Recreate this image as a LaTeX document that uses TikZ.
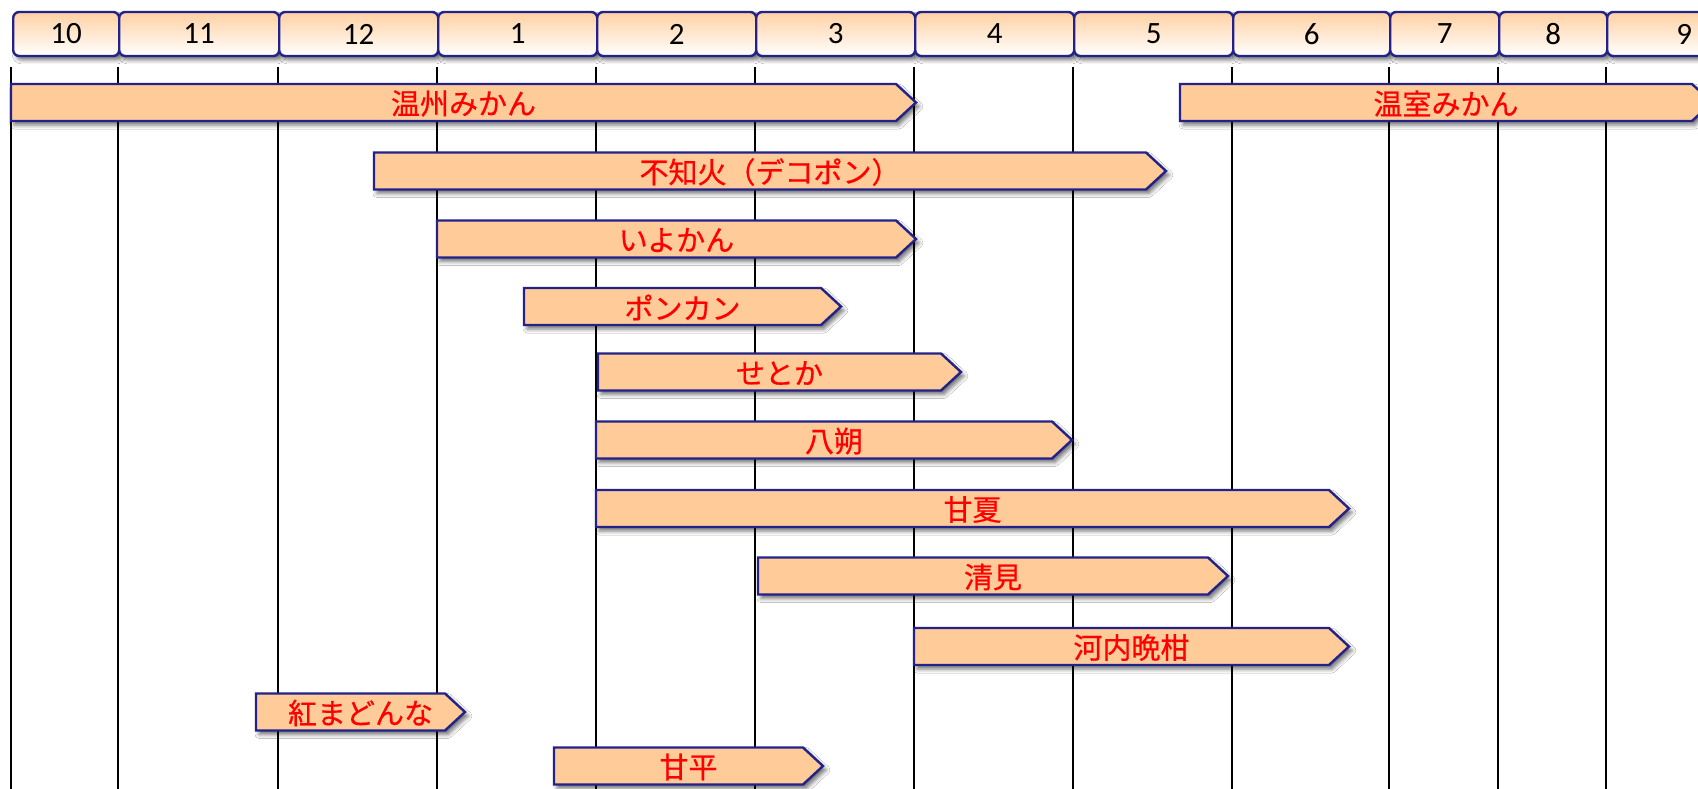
\documentclass[tikz,border=0pt]{standalone}
\usepackage{fontspec}
\setmainfont{Carlito}
\newfontfamily\jpfont[FakeBold=0.6]{Noto Sans CJK JP}
\usetikzlibrary{shadows.blur}

\definecolor{peach}{RGB}{255,204,153}
\definecolor{navy}{RGB}{34,34,138}
\definecolor{labelred}{RGB}{255,0,0}

\tikzset{
  softshadow/.style={blur shadow={shadow xshift=3pt, shadow yshift=-4pt,
      shadow blur radius=4pt, shadow opacity=55}},
  monthbox/.style={draw=navy, line width=2.4pt, rounded corners=6pt,
      top color=peach!90, bottom color=white, minimum height=44pt,
      inner sep=0pt, text=black, font=\fontsize{31}{34}\selectfont, softshadow},
  gridline/.style={black, line width=2.8pt},
  barshape/.style={fill=peach, draw=navy, line width=2.4pt, line join=miter, softshadow},
  bartext/.style={text=labelred, inner sep=0pt, font=\jpfont\fontsize{29}{32}\selectfont},
}

% one season bar: name, left x, tip x, centre y, label
\newcommand\fruitbar[5]{%
  \path[barshape] (#2,#4-18.5) -- (#3-20,#4-18.5) -- (#3,#4)
        -- (#3-20,#4+18.5) -- (#2,#4+18.5) -- cycle;
  \node[bartext] (#1) at ({(#2+#3)/2},#4+1) {#5};
}

\begin{document}
\begin{tikzpicture}[x=1pt,y=-1pt]
\useasboundingbox (0,0) rectangle (1698,789);
\clip (0,0) rectangle (1698,789);
\fill[white] (0,0) rectangle (1698,789);

% month columns
\foreach \x in {11,118,278,437,596,755,914,1073,1232,1389,1498,1606}
  \draw[gridline] (\x,67) -- (\x,789);

% season bars
\fruitbar{unshu}{11}{916}{102.5}{温州みかん}
\fruitbar{onshitsu}{1180}{1712}{102.5}{温室みかん}
\fruitbar{shiranui}{374}{1166}{171}{不知火（デコポン）}
\fruitbar{iyokan}{437}{916}{239}{いよかん}
\fruitbar{ponkan}{524}{841}{306.5}{ポンカン}
\fruitbar{setoka}{598}{961}{372}{せとか}
\fruitbar{hassaku}{596}{1072}{440}{八朔}
\fruitbar{amanatsu}{596}{1349}{508.5}{甘夏}
\fruitbar{kiyomi}{758}{1228}{576}{清見}
\fruitbar{kawachi}{914}{1349}{646.5}{河内晩柑}
\fruitbar{benimadonna}{256}{465}{712}{紅まどんな}
\fruitbar{kanpei}{554}{823}{766}{甘平}

% month header
\foreach \a/\b/\t in {12/118/10,118/278/11,278/437/12,437/596/1,596/755/2,
    755/914/3,914/1073/4,1073/1232/5,1232/1389/6,1389/1498/7,1498/1606/8,1606/1760/9}
  \node[monthbox, minimum width={\b-\a}, anchor=west] (m\t) at (\a,34) {\t};
\end{tikzpicture}
\end{document}
